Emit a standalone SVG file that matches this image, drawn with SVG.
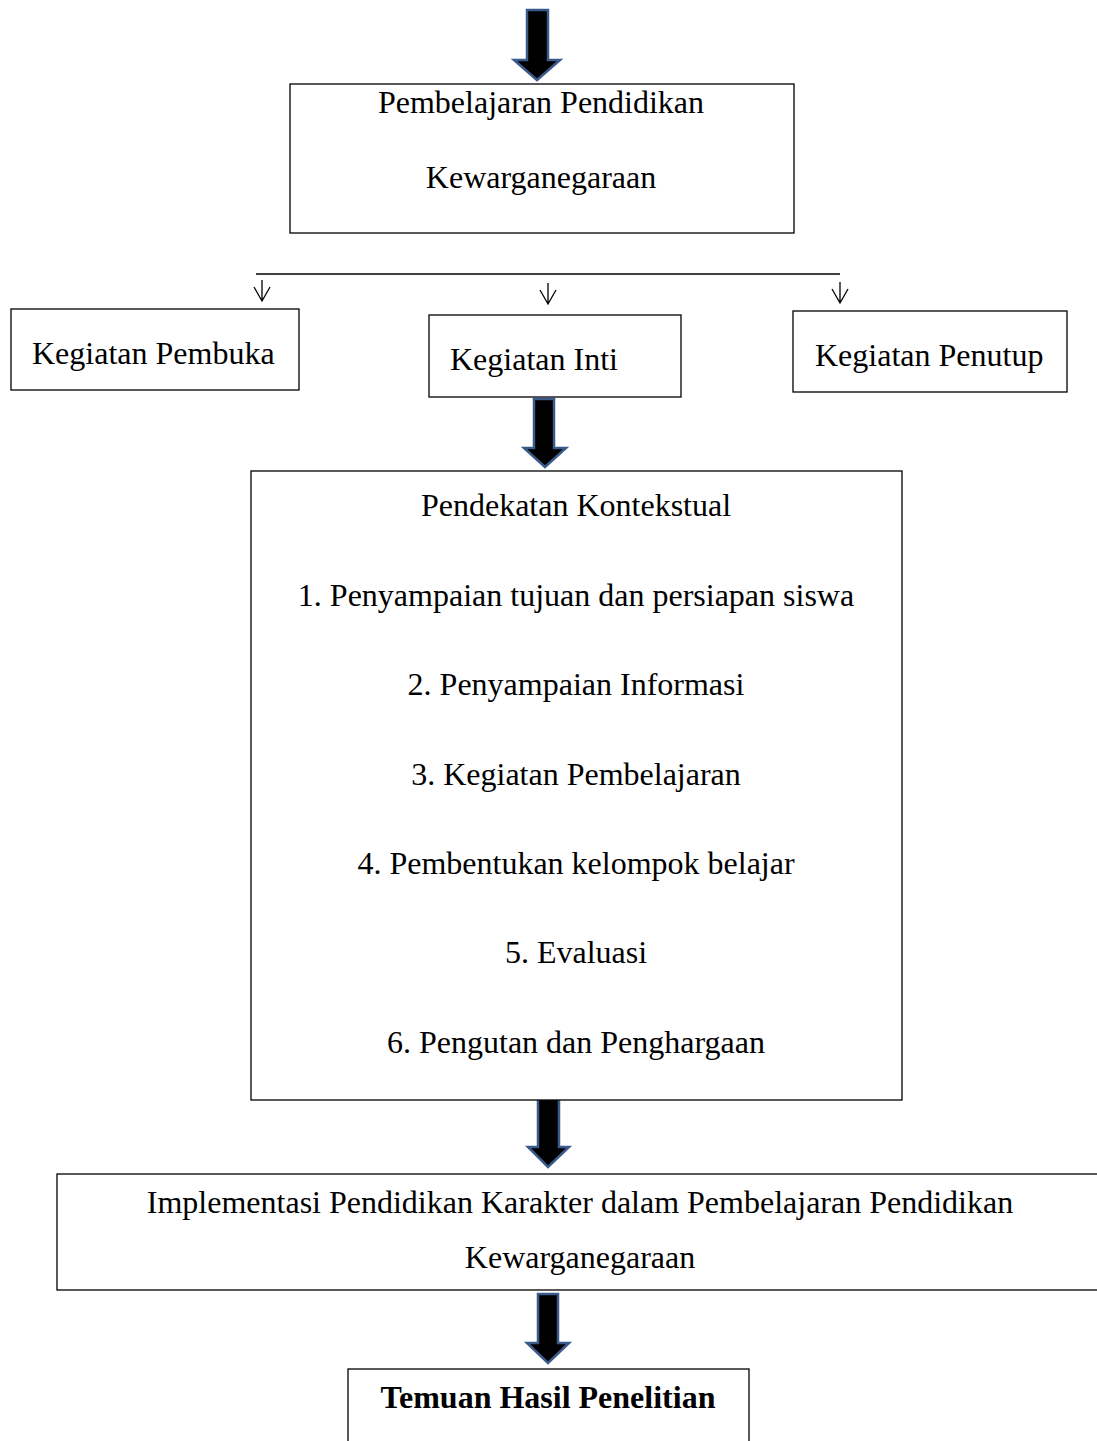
<svg xmlns="http://www.w3.org/2000/svg" width="1097" height="1441" viewBox="0 0 1097 1441">
<style>
.box{fill:#fff;stroke:#000;stroke-width:1.3}
.t{font-family:"Liberation Serif","Times New Roman",serif;font-size:32px;fill:#000}
.c{text-anchor:middle}
.b{font-weight:bold}
.blk{fill:#000;stroke:#3a5a8c;stroke-width:2.5;stroke-linejoin:miter}
.ln{stroke:#000;stroke-width:1.3;fill:none}
</style>
<rect width="1097" height="1441" fill="#fff"/>
<g id="connectors">
<path class="blk" d="M527,10 H548 V60 H560 L537,80 L514,60 H527 Z"/>
<line class="ln" x1="256" y1="274" x2="840" y2="274"/>
<path class="ln" d="M262,280 V301 M254,287 L262,301 L270,287"/>
<path class="ln" d="M548,283 V304 M540,290 L548,304 L556,290"/>
<path class="ln" d="M840,282 V303 M832,289 L840,303 L848,289"/>
<path class="blk" d="M534,399 H554 V448 H566 L545,467 L524,448 H534 Z"/>
<path class="blk" d="M538,1099 H559 V1147 H569 L548,1167 L528,1147 H538 Z"/>
<path class="blk" d="M538,1294 H558 V1343 H569 L548,1363 L527,1343 H538 Z"/>
</g>
<g id="n1">
<rect class="box" x="290" y="84" width="504" height="149"/>
<text class="t c" x="541" y="113">Pembelajaran Pendidikan</text>
<text class="t c" x="541" y="188">Kewarganegaraan</text>
</g>
<g id="n2">
<rect class="box" x="11" y="309" width="288" height="81"/>
<text class="t" x="32" y="364">Kegiatan Pembuka</text>
</g>
<g id="n3">
<rect class="box" x="429" y="315" width="252" height="82"/>
<text class="t" x="450" y="370">Kegiatan Inti</text>
</g>
<g id="n4">
<rect class="box" x="793" y="311" width="274" height="81"/>
<text class="t" x="815" y="366">Kegiatan Penutup</text>
</g>
<g id="n5">
<rect class="box" x="251" y="471" width="651" height="629"/>
<text class="t c" x="576" y="516">Pendekatan Kontekstual</text>
<text class="t c" x="576" y="606">1. Penyampaian tujuan dan persiapan siswa</text>
<text class="t c" x="576" y="695">2. Penyampaian Informasi</text>
<text class="t c" x="576" y="785">3. Kegiatan Pembelajaran</text>
<text class="t c" x="576" y="874">4. Pembentukan kelompok belajar</text>
<text class="t c" x="576" y="963">5. Evaluasi</text>
<text class="t c" x="576" y="1053">6. Pengutan dan Penghargaan</text>
</g>
<g id="n6">
<rect class="box" x="57" y="1174" width="1060" height="116"/>
<text class="t c" x="580" y="1213">Implementasi Pendidikan Karakter dalam Pembelajaran Pendidikan</text>
<text class="t c" x="580" y="1268">Kewarganegaraan</text>
</g>
<g id="n7">
<rect class="box" x="348" y="1369" width="401" height="100"/>
<text class="t c b" x="548" y="1408">Temuan Hasil Penelitian</text>
</g>
</svg>
